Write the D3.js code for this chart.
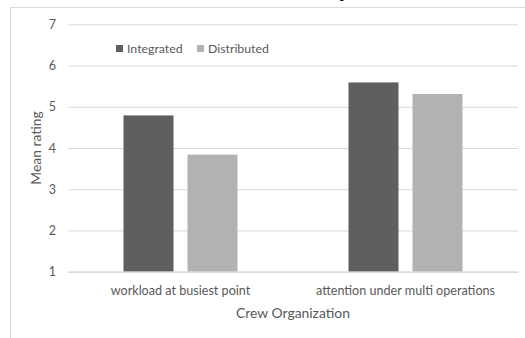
<!DOCTYPE html>
<html><head><meta charset="utf-8">
<script src="https://cdn.jsdelivr.net/npm/d3@7"></script>
<style>html,body{margin:0;padding:0;background:#fff;}svg{display:block;}</style>
</head><body>
<svg id="chart" width="525" height="338"></svg>
<script>
const categories = ["workload at busiest point", "attention under multi operations"];
const seriesNames = ["Integrated", "Distributed"];
const integrated = [4.79, 5.59];
const distributed = [3.84, 5.31];
const yTicks = [1, 2, 3, 4, 5, 6, 7];
const colors = ["#5f5f5f", "#b2b2b2"];

const svg = d3.select("#chart");
const font = "Lato, 'Open Sans', sans-serif";
const txt = "#595959";

// partially visible document text above chart
svg.append("text").attr("x", 344).attr("y", -3).attr("text-anchor", "middle")
  .attr("font-family", "'Liberation Serif', serif").attr("font-size", 18).attr("fill", "#000").text("p");

// chart frame
svg.append("rect").attr("x", 10.5).attr("y", 7.5).attr("width", 530).attr("height", 340)
  .attr("fill", "#fff").attr("stroke", "#d9d9d9").attr("stroke-width", 1);

const x = d3.scaleBand().domain(categories).range([68, 518]).paddingInner(0).paddingOuter(0);
const xi = d3.scaleBand().domain(seriesNames).range([0, x.bandwidth()]).paddingInner(14/64).paddingOuter(0.867);
const y = d3.scaleLinear().domain([1, 7]).range([271.7, 24.3]);

// gridlines
const yAxis = d3.axisLeft(y).tickValues(yTicks).tickSize(-(518 - 68)).tickPadding(12).tickFormat(d3.format("d"));
const gy = svg.append("g").attr("transform", "translate(68,0)").call(yAxis);
gy.select(".domain").remove();
gy.selectAll(".tick line").attr("stroke", "#d9d9d9").attr("stroke-width", 1);
gy.selectAll(".tick text").attr("fill", txt).attr("font-family", font).attr("font-size", 12.5);

// bars
const data = categories.map((c, i) => ({cat: c, vals: [integrated[i], distributed[i]]}));
const groups = svg.append("g").selectAll("g").data(data).join("g")
  .attr("transform", d => `translate(${x(d.cat)},0)`);
groups.selectAll("rect").data(d => d.vals.map((v, j) => ({s: seriesNames[j], v, j})))
  .join("rect")
  .attr("x", d => xi(d.s)).attr("width", xi.bandwidth())
  .attr("y", d => y(d.v)).attr("height", d => y(1) - y(d.v))
  .attr("fill", d => colors[d.j]);

// x axis line
const xAxis = d3.axisBottom(x).tickSize(0).tickPadding(14);
const gx = svg.append("g").attr("transform", `translate(0,${y(1)})`).call(xAxis);
gx.select(".domain").attr("stroke", "#d9d9d9").attr("stroke-width", 1.5);
gx.selectAll(".tick text").attr("fill", txt).attr("font-family", font).attr("font-size", 12.6);

// axis titles
svg.append("text").attr("x", 293).attr("y", 318).attr("text-anchor", "middle")
  .attr("fill", txt).attr("font-family", font).attr("font-size", 13.9).text("Crew Organization");
svg.append("text").attr("transform", "translate(41,148) rotate(-90)").attr("text-anchor", "middle")
  .attr("fill", txt).attr("font-family", font).attr("font-size", 13.9).text("Mean rating");

// legend
const legX = [116, 197];
const leg = svg.append("g").selectAll("g").data(seriesNames).join("g")
  .attr("transform", (d, i) => `translate(${legX[i]},45)`);
leg.append("rect").attr("width", 7).attr("height", 7).attr("fill", (d, i) => colors[i]);
leg.append("text").attr("x", 11).attr("y", 8).attr("fill", txt)
  .attr("font-family", font).attr("font-size", 12.3).text(d => d);
</script>
</body></html>
